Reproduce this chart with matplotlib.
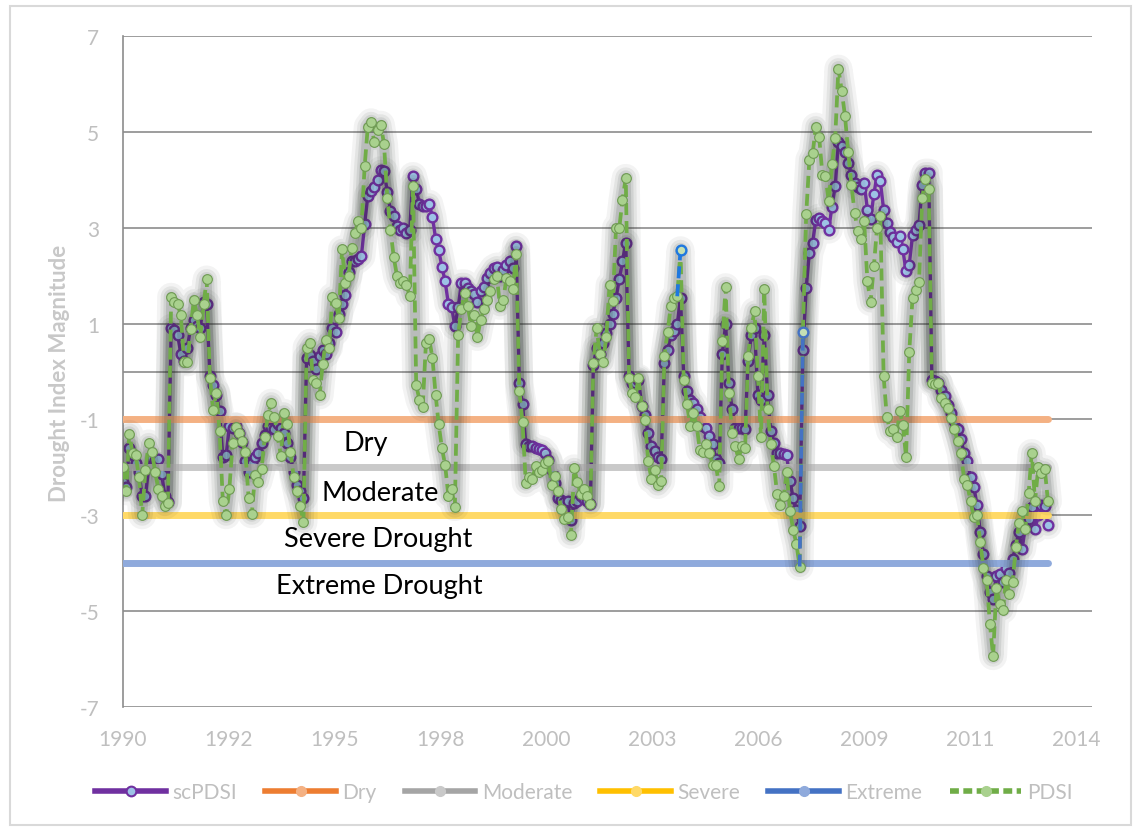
import numpy as np
import pandas as pd
import matplotlib
matplotlib.use("Agg")
import matplotlib.pyplot as plt
import matplotlib.transforms as mtransforms
from matplotlib.lines import Line2D
from matplotlib.patches import Rectangle

plt.rcParams['font.family'] = ['Lato', 'DejaVu Sans']

# ---------------- data ----------------
start_date = "1990-01-01"
scpdsi = [
    -2.3, -2.4, -1.6, -1.75, -1.9, -2.1, -2.6, -2.6, -2.0, -1.8, -1.85, -1.83,
    -2.14, -2.6, -2.72, 0.91, 0.87, 0.76, 0.37, 0.22, 0.5, 0.91, 1.07, 0.95,
    0.91, 1.45, 1.41, -0.1, -0.29, -0.48, -0.83, -1.79, -1.75, -1.14, -1.17, -1.14,
    -1.29, -1.48, -1.87, -2.1, -1.9, -1.79, -1.71, -1.5, -1.33, -1.14, -1.17, -1.2,
    -1.1, -1.17, -1.29, -1.5, -1.79, -2.1, -2.37, -2.5, -2.64, 0.29, 0.35, 0.22,
    0.06, 0.33, 0.45, 0.37, 0.6, 0.91, 0.83, 1.2, 1.41, 1.6, 2.07, 2.3,
    2.3, 2.34, 2.4, 3.07, 3.66, 3.77, 3.85, 4.0, 4.2, 4.18, 3.75, 3.35,
    3.24, 3.03, 2.96, 3.0, 2.88, 2.95, 4.08, 3.81, 3.5, 3.46, 3.45, 3.5,
    3.23, 2.76, 2.53, 2.19, 1.88, 1.41, 1.34, 0.95, 1.34, 1.84, 1.84, 1.75,
    1.68, 1.61, 1.45, 1.68, 1.76, 1.95, 2.05, 2.15, 2.19, 1.99, 2.11, 2.22,
    2.3, 2.15, 2.61, -0.25, -0.67, -1.52, -1.55, -1.56, -1.6, -1.62, -1.64, -1.71,
    -1.85, -2.06, -2.33, -2.64, -2.68, -2.72, -2.7, -3.1, -2.75, -2.7, -2.6, -2.65,
    -2.7, -2.76, 0.14, 0.49, 0.37, 0.6, 0.8, 0.99, 1.2, 1.53, 1.92, 2.3,
    2.69, -0.09, -0.25, -0.25, -0.17, -0.71, -0.9, -1.29, -1.56, -1.65, -1.79, -1.83,
    0.18, 0.45, 0.76, 0.85, 0.99, 1.53, -0.09, -0.4, -0.59, -0.65, -0.79, -0.95,
    -1.14, -1.17, -1.35, -1.52, -1.83, -1.9, 0.37, 0.99, -0.25, -0.79, -1.17, -1.17,
    -1.17, -1.2, 0.22, 0.76, 0.91, -0.48, -0.6, 0.76, -0.48, -1.25, -1.5, -1.71,
    -1.71, -1.72, -1.75, -2.29, -2.64, -2.9, -3.22, 0.45, 1.75, 2.48, 2.69, 3.17,
    3.21, 3.13, 3.1, 2.96, 3.44, 3.86, 4.78, 4.7, 4.59, 4.36, 4.11, 3.94,
    3.85, 3.8, 3.94, 3.38, 3.18, 3.7, 4.1, 3.97, 3.38, 3.1, 2.92, 2.8,
    2.71, 2.82, 2.55, 2.09, 2.23, 2.84, 2.96, 3.05, 3.9, 4.15, 4.15, -0.18,
    -0.2, -0.23, -0.39, -0.52, -0.69, -0.86, -1.03, -1.19, -1.4, -1.7, -1.87, -2.2,
    -2.41, -2.79, -3.34, -3.8, -4.26, -4.6, -4.75, -4.26, -4.22, -4.39, -4.09, -4.2,
    -3.92, -3.63, -3.34, -3.71, -3.25, -3.08, -2.83, -3.29, -3.0, -2.79, -2.8, -3.21,
]
pdsi = [
    -2.0, -2.5, -1.3, -1.7, -1.75, -2.2, -3.0, -2.05, -1.5, -1.67, -2.1, -2.46,
    -2.6, -2.8, -2.75, 1.56, 1.45, 1.4, 1.17, 0.2, 0.19, 0.88, 1.5, 1.17,
    0.73, 1.4, 1.92, -0.13, -0.8, -0.44, -1.25, -2.7, -3.0, -2.46, -1.5, -1.15,
    -1.28, -1.45, -1.67, -2.63, -2.98, -2.15, -2.3, -2.04, -1.36, -0.9, -0.65, -0.94,
    -1.35, -1.77, -0.86, -1.1, -1.67, -2.2, -2.5, -2.8, -3.15, 0.5, 0.6, -0.17,
    -0.23, -0.5, 0.15, 0.65, 0.5, 1.56, 1.43, 1.12, 2.55, 1.85, 2.0, 2.58,
    2.9, 3.13, 3.0, 4.28, 5.11, 5.2, 4.78, 5.04, 5.15, 4.74, 3.62, 2.96,
    2.38, 1.99, 1.84, 1.88, 1.8, 1.57, 3.88, -0.29, -0.59, -0.75, 0.6, 0.68,
    0.29, -0.5, -1.1, -1.6, -1.95, -2.6, -2.45, -2.83, 0.76, 1.3, 1.64, 1.37,
    0.95, 1.18, 0.72, 1.07, 1.3, 1.5, 1.68, 1.92, 1.99, 1.37, 1.49, 1.95,
    1.88, 1.72, 2.46, -0.4, -1.06, -2.33, -2.2, -2.25, -1.98, -2.1, -2.06, -1.91,
    -1.87, -2.37, -2.18, -2.5, -2.87, -3.07, -3.03, -3.41, -2.02, -2.3, -2.56, -2.45,
    -2.6, -2.76, 0.18, 0.9, 0.37, 0.2, 0.72, 1.8, 1.47, 3.0, 3.0, 3.58,
    4.04, -0.13, -0.44, -0.54, -0.13, -0.71, -1.02, -1.87, -2.25, -2.06, -2.37, -2.29,
    0.33, 0.83, 1.37, 1.53, 1.57, 2.53, -0.17, -0.67, -1.14, -0.86, -1.14, -1.64,
    -1.68, -1.52, -1.7, -1.95, -1.95, -2.39, 0.64, 1.76, -0.44, -1.29, -1.56, -1.83,
    -1.56, -1.6, 0.33, 0.91, 1.26, -0.09, -1.37, 1.72, -0.79, -1.52, -1.98, -2.56,
    -2.78, -2.6, -2.1, -2.91, -3.3, -3.6, -4.07, 0.83, 3.28, 4.42, 4.55, 5.11,
    4.9, 4.11, 4.07, 3.55, 4.32, 4.88, 6.32, 5.86, 5.34, 4.59, 3.9, 3.31,
    2.93, 2.77, 3.15, 1.88, 1.45, 2.2, 3.0, 3.24, -0.1, -0.94, -1.24, -1.19,
    -1.36, -0.82, -1.11, -1.78, 0.4, 1.54, 1.71, 1.87, 3.63, 4.02, 3.8, -0.23,
    -0.27, -0.23, -0.56, -0.65, -0.77, -0.98, -1.19, -1.45, -1.7, -2.24, -2.37, -2.7,
    -3.04, -3.0, -3.55, -4.09, -4.34, -5.27, -5.94, -4.51, -4.85, -4.97, -4.34, -4.64,
    -4.39, -3.67, -3.17, -2.92, -3.29, -2.54, -1.7, -2.71, -1.99, -2.12, -2.03, -2.71,
]
threshold_names = ["Dry", "Moderate", "Severe", "Extreme"]
threshold_levels = [-1, -2, -3, -4]
band_labels = ["Dry", "Moderate", "Severe Drought", "Extreme Drought"]
band_label_y = [-1.48, -2.52, -3.48, -4.46]
band_label_xfrac = [0.250, 0.265, 0.263, 0.264]
pdsi_highlight_idx = [173, 211]
y_ticks = [-7, -5, -3, -1, 1, 3, 5, 7]
grid_levels = [-7, -5, -3, -1, 0, 1, 3, 5, 7]
x_tick_step_days = 1000
n_x_ticks = 10

# ---------------- figure ----------------
W, H = 1138, 829
fig = plt.figure(figsize=(W / 100, H / 100), dpi=100)
fig.patch.set_facecolor("white")
L, R, T, B = 123, 1092, 37, 708
ax = fig.add_axes([L / W, 1 - B / H, (R - L) / W, (B - T) / H])

dates = pd.date_range(start_date, periods=len(scpdsi), freq="MS")
t0 = pd.Timestamp(start_date)
ax.set_xlim(t0, t0 + pd.Timedelta(days=9151))
ax.set_ylim(-7, 7)

# gridlines
for g in grid_levels:
    ax.axhline(g, color="#8C8C8C", lw=1.2, zorder=0.5)

for s in ["top", "right", "bottom"]:
    ax.spines[s].set_visible(False)
ax.spines["left"].set_color("#8C8C8C")
ax.spines["left"].set_linewidth(1.2)

tick_color = "#BFBFBF"
xt = [t0 + pd.Timedelta(days=k * x_tick_step_days) for k in range(n_x_ticks)]
ax.set_xticks(xt)
ax.set_xticklabels([str(d.year) for d in xt])
ax.set_yticks(y_ticks)
ax.set_yticklabels([str(v) for v in y_ticks])
ax.tick_params(axis="both", length=0, labelsize=15, labelcolor=tick_color)
ax.tick_params(axis="x", pad=16)
ax.tick_params(axis="y", pad=17)

def glow(x, y, z):
    for w, a in [(28, 0.05), (21, 0.07), (15, 0.09), (10, 0.12)]:
        ax.plot(x, y, color="#1A221C", lw=w * 0.72, alpha=a,
                solid_joinstyle="round", solid_capstyle="round", zorder=z)

# scPDSI
glow(dates, scpdsi, 1)
ax.plot(dates, scpdsi, color="#7030A0", lw=2.4, marker="o", ms=7,
        mfc="#9DC3E6", mec="#7030A0", mew=1.7, zorder=2)

# threshold lines
th_colors = ["#F4B183", "#C9C9C9", "#FFD966", "#8FAADC"]
for lvl, c in zip(threshold_levels, th_colors):
    ax.plot(dates, np.full(len(dates), lvl), color=c, lw=5.0,
            solid_capstyle="round", zorder=3)

# PDSI
glow(dates, pdsi, 4)
ax.plot(dates, pdsi, color="#70AD47", lw=2.7, ls=(0, (3.2, 1.6)), marker="o",
        ms=7, mfc="#A9D18E", mec="#6E9A52", mew=0.8, zorder=5)

hl_colors = ["#1F78E0", "#4472C4"]
for i, c in zip(pdsi_highlight_idx, hl_colors):
    ax.plot(dates[i - 1:i + 1], pdsi[i - 1:i + 1], color=c, lw=2.7,
            ls=(0, (3.2, 1.6)), zorder=6)
    ax.plot([dates[i]], [pdsi[i]], marker="o", ms=7, mfc="#C5E0B4",
            mec=c, mew=1.7, ls="none", zorder=7)

# band labels
trans = mtransforms.blended_transform_factory(ax.transAxes, ax.transData)
for txt, yv, xf in zip(band_labels, band_label_y, band_label_xfrac):
    ax.text(xf, yv, txt, transform=trans, ha="center", va="center",
            fontsize=19.5, color="black", zorder=8)

# y label
fig.text(60 / W, 1 - 373 / H, "Drought Index Magnitude", rotation=90,
         ha="center", va="center", fontsize=16, fontweight="bold", color="#C8C8C8")

# legend
handles = [
    Line2D([], [], color="#7030A0", lw=4, marker="o", ms=7, mfc="#9DC3E6", mec="#7030A0", mew=1.5),
    Line2D([], [], color="#ED7D31", lw=4, marker="o", ms=7, mfc="#F4B183", mec="#F4B183"),
    Line2D([], [], color="#A5A5A5", lw=4, marker="o", ms=7, mfc="#C9C9C9", mec="#C9C9C9"),
    Line2D([], [], color="#FFC000", lw=4, marker="o", ms=7, mfc="#FFD966", mec="#FFD966"),
    Line2D([], [], color="#4472C4", lw=4, marker="o", ms=7, mfc="#8FAADC", mec="#8FAADC"),
    Line2D([], [], color="#70AD47", lw=4, ls=(0, (1.6, 0.8)), marker="o", ms=7,
           mfc="#A9D18E", mec="#A9D18E"),
]
labels = ["scPDSI", "Dry", "Moderate", "Severe", "Extreme", "PDSI"]
leg = fig.legend(handles, labels, loc="center", bbox_to_anchor=(584 / W, 1 - 793 / H),
                 ncol=6, frameon=False, handlelength=3.4, handletextpad=0.3,
                 columnspacing=1.35, fontsize=15, labelcolor=tick_color)

# outer chart border
fig.patches.append(Rectangle((10 / W, 1 - 826 / H), (1131 - 10) / W, (826 - 7) / H,
                             transform=fig.transFigure, fill=False,
                             edgecolor="#D9D9D9", lw=1.5))

fig.savefig("out.png", dpi=100, facecolor="white")
